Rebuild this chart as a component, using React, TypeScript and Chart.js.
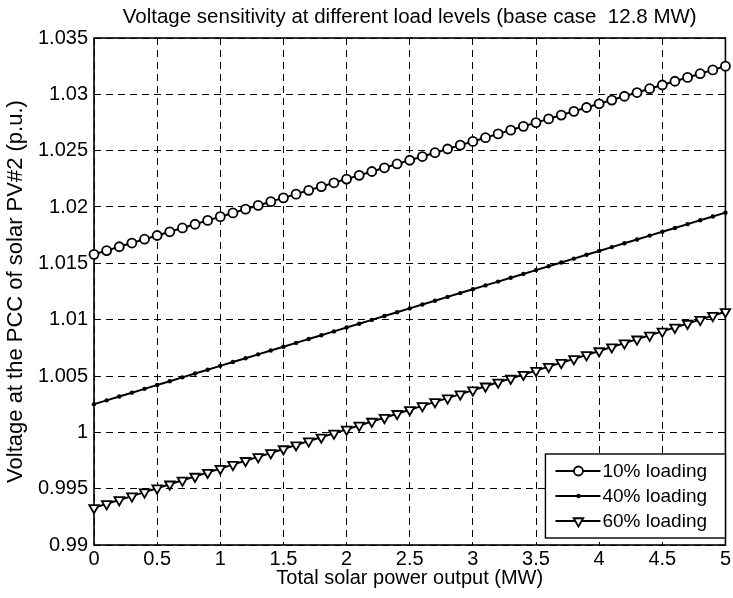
import React, { useEffect, useRef } from "react";
import { Chart, registerables } from "chart.js";

Chart.register(...registerables);

// Total solar power output (MW)
const xValues = [
  0, 0.1, 0.2, 0.3, 0.4, 0.5, 0.6, 0.7, 0.8, 0.9,
  1, 1.1, 1.2, 1.3, 1.4, 1.5, 1.6, 1.7, 1.8, 1.9,
  2, 2.1, 2.2, 2.3, 2.4, 2.5, 2.6, 2.7, 2.8, 2.9,
  3, 3.1, 3.2, 3.3, 3.4, 3.5, 3.6, 3.7, 3.8, 3.9,
  4, 4.1, 4.2, 4.3, 4.4, 4.5, 4.6, 4.7, 4.8, 4.9,
  5,
];

// Voltage at the PCC (p.u.) for each loading level
const load10 = [
  1.0158, 1.01613, 1.01647, 1.0168, 1.01714, 1.01747, 1.0178, 1.01814, 1.01847, 1.01881,
  1.01914, 1.01947, 1.01981, 1.02014, 1.02048, 1.02081, 1.02114, 1.02148, 1.02181, 1.02215,
  1.02248, 1.02281, 1.02315, 1.02348, 1.02382, 1.02415, 1.02448, 1.02482, 1.02515, 1.02549,
  1.02582, 1.02615, 1.02649, 1.02682, 1.02716, 1.02749, 1.02782, 1.02816, 1.02849, 1.02883,
  1.02916, 1.02949, 1.02983, 1.03016, 1.0305, 1.03083, 1.03116, 1.0315, 1.03183, 1.03217,
  1.0325,
];

const load40 = [
  1.0025, 1.00284, 1.00318, 1.00352, 1.00386, 1.0042, 1.00454, 1.00488, 1.00522, 1.00556,
  1.0059, 1.00624, 1.00658, 1.00692, 1.00726, 1.0076, 1.00794, 1.00828, 1.00862, 1.00896,
  1.0093, 1.00964, 1.00998, 1.01032, 1.01066, 1.011, 1.01134, 1.01168, 1.01202, 1.01236,
  1.0127, 1.01304, 1.01338, 1.01372, 1.01406, 1.0144, 1.01474, 1.01508, 1.01542, 1.01576,
  1.0161, 1.01644, 1.01678, 1.01712, 1.01746, 1.0178, 1.01814, 1.01848, 1.01882, 1.01916,
  1.0195,
];

const load60 = [
  0.9933, 0.99365, 0.994, 0.99434, 0.99469, 0.99504, 0.99539, 0.99574, 0.99608, 0.99643,
  0.99678, 0.99713, 0.99748, 0.99782, 0.99817, 0.99852, 0.99887, 0.99922, 0.99956, 0.99991,
  1.00026, 1.00061, 1.00096, 1.0013, 1.00165, 1.002, 1.00235, 1.0027, 1.00304, 1.00339,
  1.00374, 1.00409, 1.00444, 1.00478, 1.00513, 1.00548, 1.00583, 1.00618, 1.00652, 1.00687,
  1.00722, 1.00757, 1.00792, 1.00826, 1.00861, 1.00896, 1.00931, 1.00966, 1.01, 1.01035,
  1.0107,
];

const seriesLabels = ["10% loading", "40% loading", "60% loading"];

const xTicks = [0, 0.5, 1, 1.5, 2, 2.5, 3, 3.5, 4, 4.5, 5];
const xTickLabels = ["0", "0.5", "1", "1.5", "2", "2.5", "3", "3.5", "4", "4.5", "5"];
const yTicks = [0.99, 0.995, 1, 1.005, 1.01, 1.015, 1.02, 1.025, 1.03, 1.035];
const yTickLabels = ["0.99", "0.995", "1", "1.005", "1.01", "1.015", "1.02", "1.025", "1.03", "1.035"];

const FONT = "'Liberation Sans', Arial, Helvetica, sans-serif";

type MarkerKind = "circle" | "dot" | "triangleDown";
const markerKinds: MarkerKind[] = ["circle", "dot", "triangleDown"];

function drawMarker(ctx: CanvasRenderingContext2D, kind: MarkerKind, x: number, y: number) {
  ctx.save();
  ctx.strokeStyle = "#000";
  ctx.lineWidth = 1.8;
  if (kind === "circle") {
    ctx.beginPath();
    ctx.arc(x, y, 4.5, 0, Math.PI * 2);
    ctx.fillStyle = "#fff";
    ctx.fill();
    ctx.stroke();
  } else if (kind === "dot") {
    ctx.beginPath();
    ctx.arc(x, y, 2.2, 0, Math.PI * 2);
    ctx.fillStyle = "#000";
    ctx.fill();
  } else {
    const r = 5.5;
    ctx.beginPath();
    ctx.moveTo(x, y + r);
    ctx.lineTo(x - 0.866 * r, y - 0.5 * r);
    ctx.lineTo(x + 0.866 * r, y - 0.5 * r);
    ctx.closePath();
    ctx.fillStyle = "#fff";
    ctx.fill();
    ctx.stroke();
  }
  ctx.restore();
}

// Solid frame around the plotting area
const framePlugin = {
  id: "frame",
  beforeDatasetsDraw(chart: any) {
    const { ctx, chartArea: a } = chart;
    ctx.save();
    ctx.strokeStyle = "#000";
    ctx.lineWidth = 1.6;
    ctx.strokeRect(a.left, a.top, a.right - a.left, a.bottom - a.top);
    ctx.restore();
  },
};

// Boxed legend in the lower-right corner, line sample with marker
const legendBoxPlugin = {
  id: "legendBox",
  afterDraw(chart: any) {
    const { ctx, chartArea: a } = chart;
    const boxW = 180;
    const boxH = 84;
    const right = a.right;
    const bottom = a.bottom - 7;
    const left = right - boxW;
    const top = bottom - boxH;
    ctx.save();
    ctx.fillStyle = "#fff";
    ctx.fillRect(left, top, boxW, boxH);
    ctx.strokeStyle = "#000";
    ctx.lineWidth = 1.4;
    ctx.strokeRect(left, top, boxW, boxH);
    ctx.font = `19px ${FONT}`;
    ctx.textBaseline = "middle";
    ctx.textAlign = "left";
    seriesLabels.forEach((label, i) => {
      const y = top + 17 + i * 25;
      ctx.strokeStyle = "#000";
      ctx.lineWidth = 2;
      ctx.beginPath();
      ctx.moveTo(left + 10, y);
      ctx.lineTo(left + 55, y);
      ctx.stroke();
      drawMarker(ctx, markerKinds[i], left + 33, y);
      ctx.fillStyle = "#000";
      ctx.fillText(label, left + 57, y + 1);
    });
    ctx.restore();
  },
};

function App() {
  const canvasRef = useRef<HTMLCanvasElement | null>(null);

  useEffect(() => {
    if (!canvasRef.current) return;
    const toPoints = (ys: number[]) => xValues.map((x, i) => ({ x, y: ys[i] }));

    const chart = new Chart(canvasRef.current, {
      type: "line",
      data: {
        datasets: [
          {
            label: seriesLabels[0],
            data: toPoints(load10),
            borderColor: "#000",
            borderWidth: 2,
            pointStyle: "circle",
            pointRadius: 4.5,
            pointBorderWidth: 1.8,
            pointBackgroundColor: "#fff",
            pointBorderColor: "#000",
            clip: false as any,
          },
          {
            label: seriesLabels[1],
            data: toPoints(load40),
            borderColor: "#000",
            borderWidth: 2,
            pointStyle: "circle",
            pointRadius: 2.2,
            pointBorderWidth: 0,
            pointBackgroundColor: "#000",
            pointBorderColor: "#000",
            clip: false as any,
          },
          {
            label: seriesLabels[2],
            data: toPoints(load60),
            borderColor: "#000",
            borderWidth: 2,
            pointStyle: "triangle",
            pointRotation: 180,
            pointRadius: 5.5,
            pointBorderWidth: 1.8,
            pointBackgroundColor: "#fff",
            pointBorderColor: "#000",
            clip: false as any,
          },
        ],
      },
      options: {
        animation: false,
        responsive: true,
        maintainAspectRatio: false,
        layout: { padding: { left: 0, right: 6, top: 0, bottom: 0 } },
        plugins: {
          legend: { display: false },
          tooltip: { enabled: false },
          title: {
            display: true,
            fullSize: false,
            text: "Voltage sensitivity at different load levels (base case  12.8 MW)",
            color: "#000",
            font: { family: FONT, size: 20.5, weight: "normal" as any, lineHeight: 1.2 },
            padding: { top: 5, bottom: 8.4 },
          },
        },
        scales: {
          x: {
            type: "linear",
            min: 0,
            max: 5,
            afterBuildTicks: (scale: any) => {
              scale.ticks = xTicks.map((v) => ({ value: v }));
            },
            afterFit: (scale: any) => {
              scale.height = 53;
            },
            ticks: {
              color: "#000",
              font: { family: FONT, size: 20 },
              padding: 2,
              maxRotation: 0,
              autoSkip: false,
              callback: (_v: any, i: number) => xTickLabels[i],
            },
            grid: { color: "#000", lineWidth: 1, drawTicks: false },
            border: { display: false, dash: [7, 5] },
            title: {
              display: true,
              text: "Total solar power output (MW)",
              color: "#000",
              font: { family: FONT, size: 20 },
              padding: { top: 0, bottom: 8 },
            },
          },
          y: {
            type: "linear",
            min: 0.99,
            max: 1.035,
            afterBuildTicks: (scale: any) => {
              scale.ticks = yTicks.map((v) => ({ value: v }));
            },
            afterFit: (scale: any) => {
              scale.width = 94;
            },
            ticks: {
              color: "#000",
              font: { family: FONT, size: 20 },
              padding: 6,
              autoSkip: false,
              callback: (_v: any, i: number) => yTickLabels[i],
            },
            grid: { color: "#000", lineWidth: 1, drawTicks: false },
            border: { display: false, dash: [7, 5] },
            title: {
              display: true,
              text: "Voltage at the PCC of solar PV#2 (p.u.)",
              color: "#000",
              font: { family: FONT, size: 22 },
              padding: { top: 3, bottom: 0 },
            },
          },
        },
      },
      plugins: [framePlugin, legendBoxPlugin],
    });

    return () => chart.destroy();
  }, []);

  return (
    <div style={{ position: "fixed", left: 0, top: 0, width: 733, height: 598, background: "#fff" }}>
      <canvas ref={canvasRef} />
    </div>
  );
}

export default App;
